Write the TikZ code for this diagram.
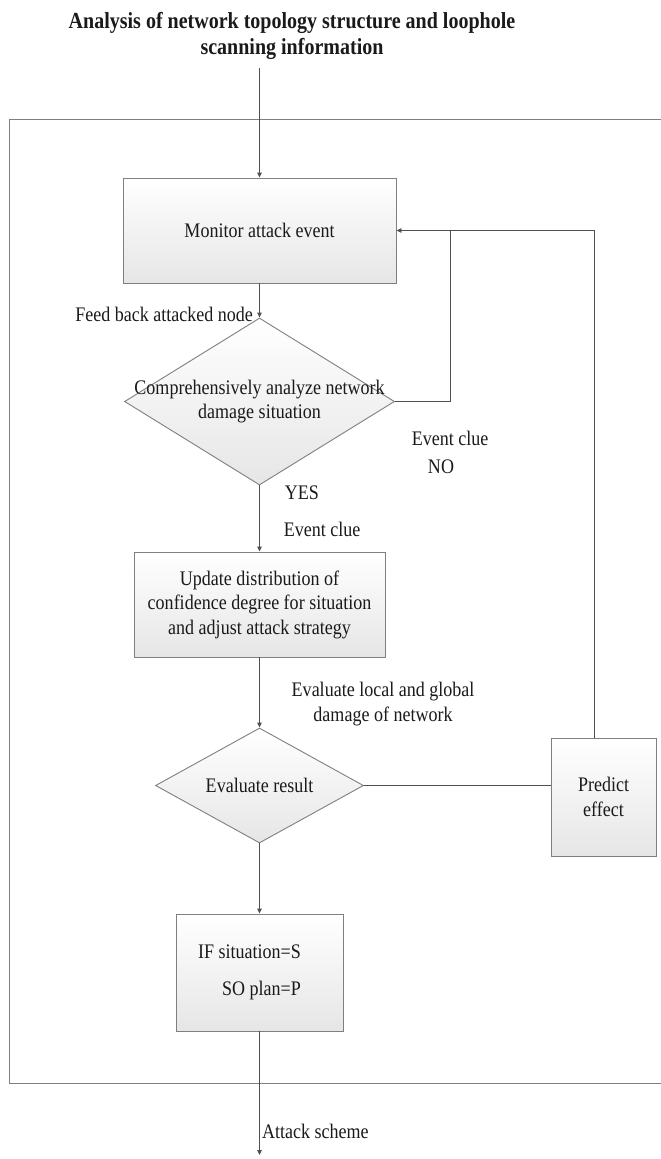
\documentclass[tikz,border=0pt]{standalone}
\usepackage{fontspec}
\setmainfont{Liberation Serif}[FakeStretch=0.87]
\usetikzlibrary{shapes.geometric,arrows.meta}
\definecolor{boxgray}{HTML}{7F7F7F}
\definecolor{linegray}{HTML}{505050}
\definecolor{fillgray}{HTML}{E6E6E6}
\definecolor{textcol}{HTML}{1A1A1A}
\newcommand\bodyfnt{\fontsize{20.7}{24.5}\selectfont}
\newcommand\titlefnt{\fontsize{23}{26}\selectfont\bfseries}
\begin{document}
\begin{tikzpicture}[x=1pt,y=-1pt,
  box/.style={draw=boxgray, line width=0.9pt, top color=white, bottom color=fillgray,
    align=center, inner sep=0pt, font=\bodyfnt, text=textcol},
  dia/.style={diamond, draw=boxgray, line width=0.9pt, top color=white, bottom color=fillgray, inner sep=0pt},
  conn/.style={draw=linegray, line width=0.9pt},
  arr/.style={conn, -{Triangle[length=5pt,width=4.5pt]}},
  lbl/.style={font=\bodyfnt, inner sep=0pt, text=textcol, align=center}]
\useasboundingbox (0,0) rectangle (661,1159);
% outer frame
\draw[draw=boxgray, line width=0.9pt] (9,119) rectangle (664,1083);
% title
\node[lbl, font=\titlefnt] (title) at (292,36) {Analysis of network topology structure and loophole\\scanning information};
\coordinate (tin) at (259.5,68);
% boxes
\node[box, minimum width=273pt, minimum height=105pt] (mon) at (259.5,230.5) {Monitor attack event};
\node[dia, minimum width=270pt, minimum height=167pt,
  label={[lbl]center:Comprehensively analyze network\\damage situation}] (d1) at (259.5,401.5) {};
\node[box, minimum width=251pt, minimum height=105pt] (upd) at (259.5,604.5)
  {Update distribution of\\confidence degree for situation\\and adjust attack strategy};
\node[dia, minimum width=208pt, minimum height=115pt,
  label={[lbl]center:Evaluate result}] (d2) at (259.5,785.5) {};
\node[box, minimum width=105pt, minimum height=118pt] (pred) at (603.5,797) {Predict\\effect};
\node[box, minimum width=167pt, minimum height=117pt, align=right] (iff) at (259.5,972.5)
  {IF situation=S\hspace*{20pt}\\[12pt]SO plan=P\hspace*{20pt}};
% connectors
\draw[arr] (tin) -- (mon.north);
\draw[arr] (mon.south) -- (d1.north);
\coordinate (j) at (450,231);
\coordinate (pt) at (594,738);
\draw[conn] (d1.east) -| (j);
\draw[arr] (pt) |- (mon.east);
\draw[arr] (d1.south) -- (upd.north);
\draw[arr] (upd.south) -- (d2.north);
\draw[conn] (d2.east) -- (d2.east -| pred.west);
\draw[arr] (d2.south) -- (iff.north);
\coordinate (out) at (259.5,1155);
\draw[arr] (iff.south) -- (out);
% labels
\node[lbl, anchor=east] (fb) at (253,314) {Feed back attacked node};
\node[lbl] (ec1) at (450,438) {Event clue};
\node[lbl] (no) at (441,467) {NO};
\node[lbl] (yes) at (302,493) {YES};
\node[lbl] (ec2) at (322,529) {Event clue};
\node[lbl] (eval) at (383,704) {Evaluate local and global\\damage of network};
\node[lbl, anchor=west] (as) at (262,1131) {Attack scheme};
\end{tikzpicture}
\end{document}
